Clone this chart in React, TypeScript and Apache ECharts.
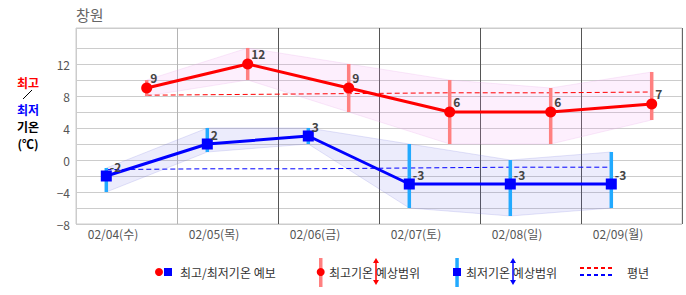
import React, { useEffect, useRef } from 'react';
import * as echarts from 'echarts';

const categories = ['02/04(수)', '02/05(목)', '02/06(금)', '02/07(토)', '02/08(일)', '02/09(월)'];
const maxTemp = [9, 12, 9, 6, 6, 7];
const minTemp = [-2, 2, 3, -3, -3, -3];
const maxRangeLow = [8, 10, 6, 2, 2, 5];
const maxRangeHigh = [10, 14, 12, 10, 9, 11];
const minRangeLow = [-4, 1, 2, -6, -7, -6];
const minRangeHigh = [-1, 4, 4, 2, 0, 1];
const normalMax = [8.1, 8.2, 8.3, 8.4, 8.4, 8.5];
const normalMin = [-1.2, -1.1, -1.1, -1.0, -0.9, -0.9];
const yTickLabels = [-8, -4, 0, 4, 8, 12];
// time of day (fraction of the day) at which each forecast is placed
const MAX_TIME = 0.7;
const MIN_TIME = 0.3;

const FONT = "'Noto Sans CJK KR', 'Noto Sans', sans-serif";

function bandSeries(high: number[], low: number[], t: number, fill: string, stroke: string, z: number) {
  return {
    type: 'custom',
    z,
    silent: true,
    data: [[t, high[0]]],
    encode: { x: 0, y: 1 },
    renderItem: (params: any, api: any) => {
      const top = high.map((v, i) => api.coord([i + t, v]));
      const bot = low.map((v, i) => api.coord([i + t, v])).reverse();
      return {
        type: 'polygon',
        shape: { points: top.concat(bot) },
        style: { fill, stroke, lineWidth: 1 },
      };
    },
  };
}

function rangeBars(low: number[], high: number[], t: number, color: string, z: number) {
  return {
    type: 'custom',
    z,
    silent: true,
    data: low.map((v, i) => [i + t, v, high[i]]),
    encode: { x: 0, y: [1, 2] },
    renderItem: (params: any, api: any) => {
      const p1 = api.coord([api.value(0), api.value(1)]);
      const p2 = api.coord([api.value(0), api.value(2)]);
      return {
        type: 'line',
        shape: { x1: p1[0], y1: p1[1], x2: p2[0], y2: p2[1] },
        style: { stroke: color, lineWidth: 3.5 },
      };
    },
  };
}

function arrow(x: number, y1: number, y2: number, color: string) {
  return [
    { type: 'line', shape: { x1: x, y1: y1 + 2, x2: x, y2: y2 - 2 }, style: { stroke: color, lineWidth: 1.5 } },
    { type: 'polygon', shape: { points: [[x - 3, y1 + 5], [x, y1], [x + 3, y1 + 5]] }, style: { fill: color } },
    { type: 'polygon', shape: { points: [[x - 3, y2 - 5], [x, y2], [x + 3, y2 - 5]] }, style: { fill: color } },
  ];
}

export default function App() {
  const ref = useRef<HTMLDivElement>(null);
  useEffect(() => {
    if (!ref.current) return;
    const chart = echarts.init(ref.current, undefined, { renderer: 'svg' });
    const labelCommon = {
      show: true,
      position: 'right',
      distance: -2,
      color: '#444',
      fontWeight: 'bold',
      fontSize: 12,
      fontFamily: FONT,
      formatter: (p: any) => String(p.value[1]),
    };
    const legendText = { fill: '#333', fontSize: 12, fontFamily: FONT, verticalAlign: 'middle' };
    const sideText = { fontSize: 12, lineHeight: 13, fontWeight: 'bold', fontFamily: FONT, align: 'center', verticalAlign: 'middle' };
    const option: any = {
      animation: false,
      textStyle: { fontFamily: FONT },
      grid: { left: 76, right: 4, top: 28, height: 196, show: true, borderColor: '#ccc', borderWidth: 1 },
      xAxis: [
        {
          type: 'value',
          min: 0,
          max: 6,
          interval: 1,
          axisLabel: { show: false },
          axisLine: { show: false },
          axisTick: { show: false },
          splitLine: {
            show: true,
            lineStyle: { color: ['#ccc', '#b4b4b4', '#555', '#555', '#555', '#555', '#666'], width: 1 },
          },
        },
        {
          type: 'category',
          data: categories,
          position: 'bottom',
          boundaryGap: true,
          axisLine: { show: false },
          axisTick: { show: false },
          splitLine: { show: false },
          axisLabel: { color: '#555', fontSize: 12, margin: 3, fontFamily: FONT, padding: [0, 27, 0, 0] },
        },
      ],
      yAxis: {
        type: 'value',
        min: -8,
        max: 16.5,
        interval: 2,
        axisLine: { show: false },
        axisTick: { show: false },
        axisLabel: {
          color: '#555',
          fontSize: 12,
          margin: 6,
          fontFamily: FONT,
          formatter: (v: number) => (yTickLabels.includes(v) ? (v < 0 ? '−' + -v : String(v)) : ''),
        },
        splitLine: {
          show: true,
          lineStyle: {
            color: ['#ccc', '#ccc', '#ccc', '#ccc', '#ccc', '#ccc', '#ccc', '#ccc', '#ccc', '#ccc', '#ccc', '#ccc', 'rgba(0,0,0,0)', '#ccc'],
            width: 1,
          },
        },
      },
      series: [
        bandSeries(maxRangeHigh, maxRangeLow, MAX_TIME, 'rgba(240,150,240,0.15)', 'rgba(230,170,230,0.25)', 1),
        bandSeries(minRangeHigh, minRangeLow, MIN_TIME, 'rgba(100,100,230,0.12)', 'rgba(120,120,220,0.2)', 1),
        {
          type: 'line',
          z: 2,
          silent: true,
          symbol: 'none',
          data: normalMax.map((v, i) => [i + MAX_TIME, v]),
          lineStyle: { color: '#ff0000', width: 1, type: [5, 3] },
        },
        {
          type: 'line',
          z: 2,
          silent: true,
          symbol: 'none',
          data: normalMin.map((v, i) => [i + MIN_TIME, v]),
          lineStyle: { color: '#0000ff', width: 1, type: [5, 3] },
        },
        rangeBars(maxRangeLow, maxRangeHigh, MAX_TIME, '#ff8080', 3),
        rangeBars(minRangeLow, minRangeHigh, MIN_TIME, '#22aaff', 3),
        {
          type: 'line',
          z: 5,
          data: maxTemp.map((v, i) => [i + MAX_TIME, v]),
          symbol: 'circle',
          symbolSize: 11,
          lineStyle: { color: '#ff0000', width: 3 },
          itemStyle: { color: '#ff0000' },
          label: { ...labelCommon, offset: [0, -11] },
        },
        {
          type: 'line',
          z: 5,
          data: minTemp.map((v, i) => [i + MIN_TIME, v]),
          symbol: 'rect',
          symbolSize: 11,
          lineStyle: { color: '#0000ff', width: 3 },
          itemStyle: { color: '#0000ff' },
          label: { ...labelCommon, offset: [0, -10] },
        },
      ],
      graphic: [
        { type: 'text', left: 76, top: 7, style: { text: '창원', fill: '#666', fontSize: 15, fontFamily: FONT } },
        { type: 'text', x: 28, y: 82, style: { text: '최고', fill: '#ff0000', ...sideText } },
        { type: 'line', shape: { x1: 23, y1: 99, x2: 32, y2: 90 }, style: { stroke: '#000', lineWidth: 1 } },
        { type: 'text', x: 28, y: 109, style: { text: '최저', fill: '#0000ff', ...sideText } },
        { type: 'text', x: 28, y: 126, style: { text: '기온', fill: '#000', ...sideText } },
        { type: 'text', x: 28, y: 143, style: { text: '(℃)', fill: '#000', ...sideText } },
        // legend
        { type: 'circle', shape: { cx: 159, cy: 272, r: 4 }, style: { fill: '#ff0000' } },
        { type: 'rect', shape: { x: 164, y: 268, width: 8, height: 8 }, style: { fill: '#0000ff' } },
        { type: 'text', x: 180, y: 272, style: { text: '최고/최저기온 예보', ...legendText } },
        { type: 'rect', shape: { x: 319, y: 258, width: 3.5, height: 29 }, style: { fill: '#ff8080' } },
        { type: 'circle', shape: { cx: 320.7, cy: 272, r: 4 }, style: { fill: '#ff0000' } },
        { type: 'text', x: 329, y: 272, style: { text: '최고기온 예상범위', ...legendText } },
        ...arrow(376, 258, 285, '#ff0000'),
        { type: 'rect', shape: { x: 455.3, y: 258, width: 3.5, height: 29 }, style: { fill: '#22aaff' } },
        { type: 'rect', shape: { x: 453, y: 268, width: 8, height: 8 }, style: { fill: '#0000ff' } },
        { type: 'text', x: 466, y: 272, style: { text: '최저기온 예상범위', ...legendText } },
        ...arrow(513, 258, 285, '#0000ff'),
        { type: 'line', shape: { x1: 580, y1: 268, x2: 615, y2: 268 }, style: { stroke: '#ff0000', lineWidth: 2, lineDash: [4, 3] } },
        { type: 'line', shape: { x1: 580, y1: 275, x2: 615, y2: 275 }, style: { stroke: '#0000ff', lineWidth: 2, lineDash: [4, 3] } },
        { type: 'text', x: 627, y: 272, style: { text: '평년', ...legendText } },
      ],
    };
    chart.setOption(option);
    return () => chart.dispose();
  }, []);
  return <div ref={ref} style={{ position: 'absolute', left: 0, top: 0, width: 686, height: 295 }} />;
}
